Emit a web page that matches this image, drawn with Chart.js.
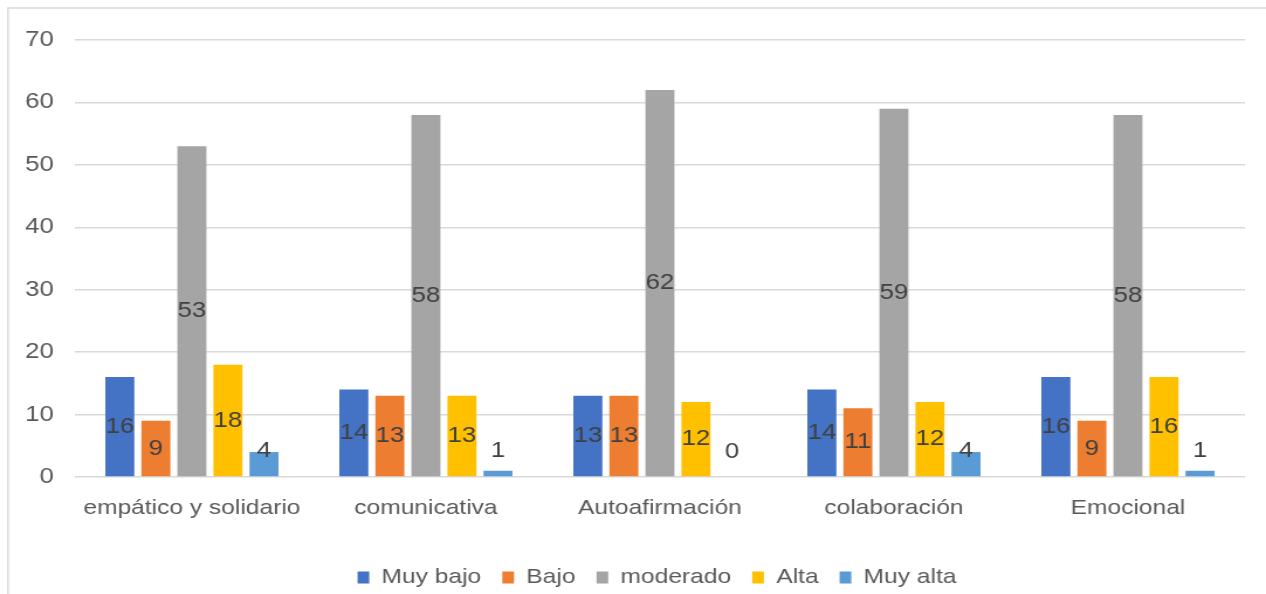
<!DOCTYPE html>
<html>
<head>
<meta charset="utf-8">
<script src="https://cdn.jsdelivr.net/npm/chart.js@4/dist/chart.umd.min.js"></script>
<style>
  html, body { margin: 0; padding: 0; background: #ffffff; overflow: hidden; }
  #c { display: block; transform: scaleX(1.17006); transform-origin: 0 0; }
</style>
</head>
<body>
<canvas id="c" width="1082" height="594" style="width:1082px;height:594px"></canvas>
<script>
const categories = ['empático y solidario', 'comunicativa', 'Autoafirmación', 'colaboración', 'Emocional'];
const seriesNames = ['Muy bajo', 'Bajo', 'moderado', 'Alta', 'Muy alta'];
const muyBajo  = [16, 14, 13, 14, 16];
const bajo     = [9, 13, 13, 11, 9];
const moderado = [53, 58, 62, 59, 58];
const alta     = [18, 13, 12, 12, 16];
const muyAlta  = [4, 1, 0, 4, 1];
const yTicks   = [0, 10, 20, 30, 40, 50, 60, 70];

const colors = ['#4472C4', '#ED7D31', '#A5A5A5', '#FFC000', '#5B9BD5'];
const seriesValues = [muyBajo, bajo, moderado, alta, muyAlta];
const FONT = '"Liberation Sans", Arial, sans-serif';

const framePlugin = {
  id: 'frame',
  beforeDraw(chart) {
    const ctx = chart.ctx;
    ctx.save();
    ctx.strokeStyle = '#d9d9d9';
    ctx.lineWidth = 1.5;
    ctx.beginPath();
    ctx.moveTo(6.8, chart.height + 5);
    ctx.lineTo(6.8, 8);
    ctx.lineTo(chart.width + 5, 8);
    ctx.stroke();
    ctx.restore();
  }
};

const legendShift = {
  id: 'legendShift',
  afterLayout(chart) {
    const lg = chart.legend;
    if (lg) {
      lg.left += 29.5; lg.right += 29.5;
      lg.top += 4; lg.bottom += 4;
    }
  }
};

const dataLabels = {
  id: 'dataLabels',
  afterDatasetsDraw(chart) {
    const ctx = chart.ctx;
    ctx.save();
    ctx.font = '22px ' + FONT;
    ctx.fillStyle = '#404040';
    ctx.textAlign = 'center';
    ctx.textBaseline = 'middle';
    chart.data.datasets.forEach((ds, di) => {
      const meta = chart.getDatasetMeta(di);
      meta.data.forEach((bar, i) => {
        const center = (bar.y + bar.base) / 2;
        const y = Math.min(center, bar.base - 25);
        ctx.fillText(String(ds.data[i]), bar.x, y);
      });
    });
    ctx.restore();
  }
};

new Chart(document.getElementById('c'), {
  type: 'bar',
  data: {
    labels: categories,
    datasets: seriesNames.map((name, k) => ({
      label: name,
      data: seriesValues[k],
      backgroundColor: colors[k],
      borderWidth: 0,
      categoryPercentage: 0.77,
      barPercentage: 0.805
    }))
  },
  options: {
    responsive: false,
    animation: false,
    devicePixelRatio: 1,
    layout: { padding: { top: 40, right: 18, left: 0, bottom: 0 } },
    plugins: {
      legend: {
        position: 'bottom',
        labels: {
          font: { family: FONT, size: 21 },
          color: '#595959',
          boxWidth: 10,
          boxHeight: 12,
          padding: 18
        }
      },
      tooltip: { enabled: false }
    },
    scales: {
      x: {
        grid: { display: false, drawTicks: false },
        border: { display: false },
        ticks: { font: { family: FONT, size: 21 }, color: '#595959', padding: 19, maxRotation: 0 },
        afterFit(s) { s.height = 68; }
      },
      y: {
        min: 0, max: 70,
        afterBuildTicks(s) { s.ticks = yTicks.map(v => ({ value: v })); },
        grid: { color: '#d9d9d9', lineWidth: 1.5, drawTicks: false },
        border: { display: false },
        ticks: { font: { family: FONT, size: 22 }, color: '#595959', padding: 18 },
        afterFit(s) { s.width = 64; }
      }
    }
  },
  plugins: [framePlugin, legendShift, dataLabels]
});
</script>
</body>
</html>
